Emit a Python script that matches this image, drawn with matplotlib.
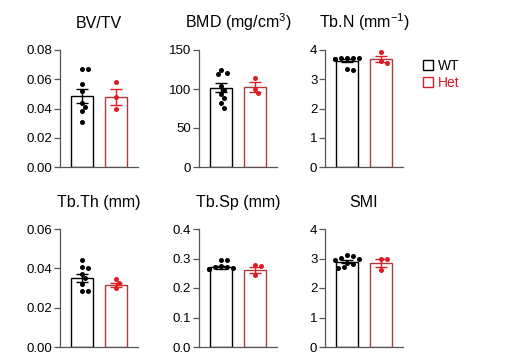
import numpy as np
import matplotlib
matplotlib.use("Agg")
import matplotlib.pyplot as plt
from matplotlib.lines import Line2D

plt.rcParams['font.family'] = ['Liberation Sans', 'DejaVu Sans']
plt.rcParams['mathtext.fontset'] = 'custom'
plt.rcParams['mathtext.rm'] = 'Liberation Sans'
plt.rcParams['mathtext.it'] = 'Liberation Sans'

# values
groups = ["WT", "Het"]
titles = ["BV/TV", "BMD (mg/cm$^3$)", "Tb.N (mm$^{-1}$)",
          "Tb.Th (mm)", "Tb.Sp (mm)", "SMI"]

bvtv_wt = [0.067, 0.067, 0.0565, 0.052, 0.044, 0.041, 0.038, 0.031]
bvtv_het = [0.058, 0.048, 0.0395]
bmd_wt = [124, 121, 119, 104, 99, 93, 88, 82, 76]
bmd_het = [114, 100, 95]
tbn_wt = [3.74, 3.73, 3.72, 3.71, 3.70, 3.68, 3.34, 3.32]
tbn_het = [3.92, 3.64, 3.56]
tbth_wt = [0.0442, 0.0405, 0.0402, 0.0371, 0.035, 0.0322, 0.0286, 0.0286]
tbth_het = [0.0344, 0.0325, 0.0300]
tbsp_wt = [0.296, 0.295, 0.275, 0.272, 0.270, 0.268, 0.266, 0.265, 0.263]
tbsp_het = [0.277, 0.276, 0.243]
smi_wt = [3.12, 3.08, 3.02, 2.98, 2.96, 2.86, 2.80, 2.72, 2.68]
smi_het = [3.00, 2.99, 2.62]

means = [(0.0488, 0.0479), (101.8, 103.0), (3.64, 3.69),
         (0.0351, 0.0315), (0.271, 0.261), (2.89, 2.85)]
sems = [(0.0048, 0.0055), (6.0, 6.5), (0.06, 0.11),
        (0.0022, 0.0012), (0.005, 0.011), (0.05, 0.13)]
points = [(bvtv_wt, bvtv_het), (bmd_wt, bmd_het), (tbn_wt, tbn_het),
          (tbth_wt, tbth_het), (tbsp_wt, tbsp_het), (smi_wt, smi_het)]
yticks = [[0, 0.02, 0.04, 0.06, 0.08], [0, 50, 100, 150], [0, 1, 2, 3, 4],
          [0, 0.02, 0.04, 0.06], [0, 0.1, 0.2, 0.3, 0.4], [0, 1, 2, 3, 4]]
fmts = ["{:.2f}", "{:.0f}", "{:.0f}", "{:.2f}", "{:.1f}", "{:.0f}"]

edge = ["black", "#b03a3a"]
dot = ["black", "#e01b24"]


def swarm(vals, ymax, d=5.0):
    # simple beeswarm: shift dots sideways so they don't overlap (in px)
    ppu_y = 117.0 / ymax
    ppu_x = 34.0
    placed = []
    offs = []
    for v in vals:
        y = v * ppu_y
        for k in [0, 1, -1, 2, -2, 3, -3, 4, -4]:
            x = k * d * 0.6
            if all((x - px) ** 2 + (y - py) ** 2 >= (d * 0.95) ** 2 for px, py in placed):
                break
        placed.append((x, y))
        offs.append(x / ppu_x)
    return offs


fig = plt.figure(figsize=(5.16, 3.57), dpi=100)
lefts = [60, 199, 325]
rows = [(50, 167), (229, 347)]

for i in range(6):
    r, c = divmod(i, 3)
    top, bot = rows[r]
    ax = fig.add_axes([lefts[c] / 516, 1 - bot / 357, 78 / 516, (bot - top) / 357])
    ymax = yticks[i][-1]
    for j in range(2):
        ax.bar(j, means[i][j], width=0.65, facecolor="white",
               edgecolor=edge[j], linewidth=1.0, zorder=1)
        offs = swarm(points[i][j], ymax)
        ax.scatter(np.array(offs) + j, points[i][j], s=13, color=dot[j],
                   zorder=3, linewidths=0)
        ax.errorbar(j, means[i][j], yerr=sems[i][j], color=dot[j],
                    capsize=4, elinewidth=1, capthick=1, zorder=4)
    ax.set_xlim(-0.65, 1.65)
    ax.set_ylim(0, ymax)
    ax.set_yticks(yticks[i])
    ax.set_yticklabels([fmts[i].format(t) for t in yticks[i]], fontsize=9.5)
    ax.set_xticks([])
    for s in ["top", "right"]:
        ax.spines[s].set_visible(False)
    for s in ["left", "bottom"]:
        ax.spines[s].set_color("#555555")
        ax.spines[s].set_linewidth(0.9)
    ax.tick_params(axis="y", length=4, width=0.9, color="#555555", pad=1.5)
    ax.set_title(titles[i], fontsize=11.5, pad=16)

handles = [Line2D([], [], marker="s", linestyle="none", markersize=7,
                  markerfacecolor="white", markeredgecolor=dot[k],
                  markeredgewidth=1.0) for k in range(2)]
fig.legend(handles, groups, loc="upper left", bbox_to_anchor=(416 / 516, 1 - 52 / 357),
           frameon=False, fontsize=10, handlelength=0.7, handletextpad=0.4,
           labelspacing=0.2, labelcolor=dot, borderpad=0)

plt.savefig("out.png", dpi=100)
